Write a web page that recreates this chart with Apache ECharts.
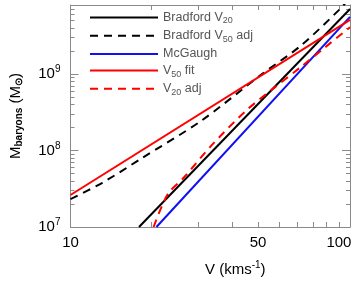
<!DOCTYPE html>
<html>
<head>
<meta charset="utf-8">
<script src="https://cdn.jsdelivr.net/npm/echarts@6/dist/echarts.min.js"></script>
<style>html,body{margin:0;padding:0;background:#fff}#c{width:357px;height:284px}</style>
</head>
<body>
<div id="c"></div>
<script>
// ---- data ----
const seriesNames = ['Bradford V20', 'Bradford V50 adj', 'McGaugh', 'V50 fit', 'V20 adj'];
const bradV20_V = [18, 110];
const bradV20_M = [1.0e7, 7.1e9];
const bradV50adj_V = [10, 13.1, 18.4, 30.7, 51.1, 71.8, 100.9, 110];
const bradV50adj_M = [2.32e7, 3.76e7, 7.9e7, 2.45e8, 9.7e8, 2.32e9, 7.08e9, 1.0e10];
const mcgaugh_V = [20.9, 110];
const mcgaugh_M = [1.0e7, 5.6e9];
const v50fit_V = [10, 110];
const v50fit_M = [2.62e7, 5.1e9];
const v20adj_V = [20.4, 22, 23.4, 26.4, 33.4, 45, 58, 72, 89, 110];
const v20adj_M = [1.0e7, 1.95e7, 2.9e7, 4.4e7, 1.15e8, 3.3e8, 6.8e8, 1.23e9, 2.25e9, 4.1e9];
const xLabelValues = [10, 50, 100];
const xTickValues = [20, 30, 40, 50, 60, 70, 80, 90, 100];
const yLabelValues = [1e7, 1e8, 1e9];
const yMinorValues = [2e7,3e7,4e7,5e7,6e7,7e7,8e7,9e7,2e8,3e8,4e8,5e8,6e8,7e8,8e8,9e8,2e9,3e9,4e9,5e9,6e9,7e9];

const pair = (xs, ys) => xs.map((x, i) => [x, ys[i]]);
const frame = '#8a8a8a';
const fontFam = '"Liberation Sans", Arial, sans-serif';

const chart = echarts.init(document.getElementById('c'), null, {renderer: 'canvas'});
const xBase = {type: 'log', logBase: 10, min: 10, max: 110, splitLine: {show: false}};
const yBase = {type: 'log', logBase: 10, min: 1e7, max: 8e9, splitLine: {show: false}};

const legendRich = {
  sub: {fontSize: 9, padding: [7, 0, 0, 0], color: '#555', fontFamily: fontFam}
};
const legendFmt = {
  'Bradford V20': 'Bradford V{sub|20}',
  'Bradford V50 adj': 'Bradford V{sub|50} adj',
  'McGaugh': 'McGaugh',
  'V50 fit': 'V{sub|50} fit',
  'V20 adj': 'V{sub|20} adj'
};

chart.setOption({
  animation: false,
  backgroundColor: '#fff',
  grid: {left: 68, right: 7, top: 5, bottom: 57, containLabel: false},
  legend: {
    orient: 'vertical', left: 84, top: 6,
    itemWidth: 68, itemHeight: 14, itemGap: 3.7,
    data: seriesNames,
    itemStyle: {opacity: 0, borderWidth: 0},
    formatter: n => legendFmt[n],
    textStyle: {color: '#555', fontSize: 12.5, fontFamily: fontFam, rich: legendRich}
  },
  xAxis: [
    Object.assign({}, xBase, {
      position: 'bottom',
      axisLine: {show: true, lineStyle: {color: frame, width: 1}},
      axisTick: {show: true, inside: true, length: 5, customValues: xTickValues, lineStyle: {color: frame}},
      axisLabel: {show: true, customValues: xLabelValues, margin: 8, color: '#000', fontSize: 15, fontFamily: fontFam},
      name: 'V (kms{sup|-1})', nameLocation: 'middle', nameGap: 33,
      nameTextStyle: {color: '#000', fontSize: 15, fontFamily: fontFam, padding: [0, 0, 0, 50],
        rich: {sup: {fontSize: 10, padding: [0, 0, 9, 0], color: '#000', fontFamily: fontFam}}}
    }),
    Object.assign({}, xBase, {
      position: 'top',
      axisLine: {show: true, lineStyle: {color: frame, width: 1}},
      axisTick: {show: true, inside: true, length: 5, customValues: xTickValues, lineStyle: {color: frame}},
      axisLabel: {show: false}
    })
  ],
  yAxis: [
    Object.assign({}, yBase, {
      position: 'left',
      axisLine: {show: true, lineStyle: {color: frame, width: 1}},
      axisTick: {show: true, inside: true, length: 8, customValues: yLabelValues, lineStyle: {color: frame}},
      axisLabel: {show: true, customValues: yLabelValues, margin: 10, color: '#000', fontSize: 15, fontFamily: fontFam,
        formatter: v => '10{sup|' + Math.round(Math.log10(v)) + '}',
        rich: {sup: {fontSize: 10, padding: [0, 0, 9, 0], color: '#000', fontFamily: fontFam}}},
      name: 'M{sub|baryons} (M{sub|⊙})', nameLocation: 'middle', nameGap: 46, nameRotate: 90,
      nameTextStyle: {color: '#000', fontSize: 15, fontFamily: fontFam,
        rich: {sub: {fontSize: 10, fontWeight: 'bold', padding: [8, 0, 0, 0], color: '#000', fontFamily: fontFam}}}
    }),
    Object.assign({}, yBase, {
      position: 'left',
      axisLine: {show: false},
      axisTick: {show: true, inside: true, length: 4, customValues: yMinorValues, lineStyle: {color: frame}},
      axisLabel: {show: false}
    }),
    Object.assign({}, yBase, {
      position: 'right',
      axisLine: {show: true, lineStyle: {color: frame, width: 1}},
      axisTick: {show: true, inside: true, length: 8, customValues: yLabelValues, lineStyle: {color: frame}},
      axisLabel: {show: false}
    }),
    Object.assign({}, yBase, {
      position: 'right',
      axisLine: {show: false},
      axisTick: {show: true, inside: true, length: 4, customValues: yMinorValues, lineStyle: {color: frame}},
      axisLabel: {show: false}
    })
  ],
  series: [
    {name: seriesNames[0], type: 'line', symbol: 'none', clip: true, data: pair(bradV20_V, bradV20_M),
      lineStyle: {color: '#000', width: 2}, itemStyle: {color: '#000'}},
    {name: seriesNames[1], type: 'line', symbol: 'none', clip: true, smooth: 0.3, data: pair(bradV50adj_V, bradV50adj_M),
      lineStyle: {color: '#000', width: 2, type: [8, 6]}, itemStyle: {color: '#000'}},
    {name: seriesNames[2], type: 'line', symbol: 'none', clip: true, data: pair(mcgaugh_V, mcgaugh_M),
      lineStyle: {color: '#1010f0', width: 2}, itemStyle: {color: '#1010f0'}},
    {name: seriesNames[3], type: 'line', symbol: 'none', clip: true, data: pair(v50fit_V, v50fit_M),
      lineStyle: {color: '#ff0000', width: 2}, itemStyle: {color: '#ff0000'}},
    {name: seriesNames[4], type: 'line', symbol: 'none', clip: true, smooth: 0.3, data: pair(v20adj_V, v20adj_M),
      lineStyle: {color: '#ff0000', width: 2, type: [8, 6]}, itemStyle: {color: '#ff0000'}}
  ]
});
</script>
</body>
</html>
